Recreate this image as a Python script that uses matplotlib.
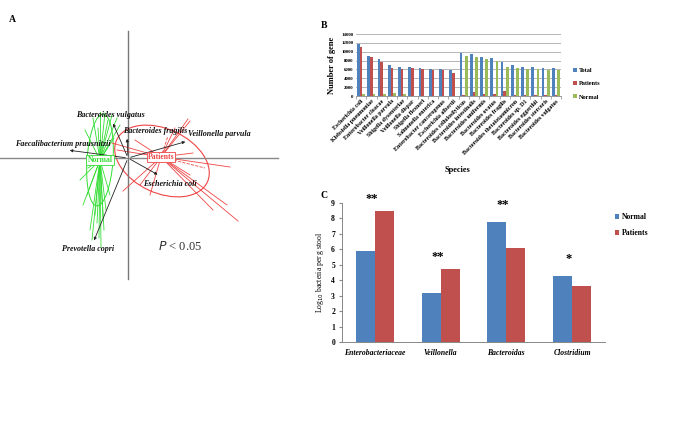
import matplotlib.pyplot as plt
import numpy as np
from matplotlib.patches import Ellipse

plt.rcParams["font.family"] = ["Liberation Serif", "DejaVu Serif"]

# ---- Panel A: biplot data (scores in plot units, origin at centre) ----
species_names = ["Bacteroides vulgatus", "Bacteroides fragilis", "Veillonella parvula",
                 "Faecalibacterium prausnitzii", "Escherichia coli", "Prevotella copri"]
species_x = [-16, -1, 60, -61, 32, -35]
species_y = [37, 22, 17, 8, -18, -85]
label_x = [-18, 27, 91, -65, 42, -40]
label_y = [43, 27, 24, 14, -26, -91]

normal_center = (-28, -2)
patients_center = (33, 1)
normal_x = [-35, -28, -23, -16, -11, -8, -20, -43, -45, -41, -38, -36, -29, -27,
            -24, -22, -18, -33, -48, -25, -30, -14, -40, -31]
normal_y = [40, 46, 45, 43, 40, 33, 38, 28, -47, -37, -72, -82, -80, -89,
            -72, -52, -37, -57, -22, -60, 30, 20, -10, -65]
patients_x = [60, 62, 102, 110, 99, -5, 65, -11, -16, 62, 47, 12, 22, 7, 85]
patients_y = [39, 37, -9, -63, -47, -33, 5, 8, 15, -17, 30, -27, -37, 18, -52]
patients_dash_x = [77, 40]
patients_dash_y = [-10, 22]

# ---- Panel B: number of genes ----
b_species = ["Escherichia coli", "Klebsiella pneumoniae", "Enterobacter cloacae",
             "Veillonella parvula", "Shigella dysenteriae", "Veillonella dispar",
             "Shigella flexneri", "Salmonella enterica", "Enterobacter cancerogenus",
             "Escherichia albertii", "Bacteroides cellulosilyticus",
             "Bacteroides intestinalis", "Bacteroides uniformis", "Bacteroides ovatus",
             "Bacteroides fragilis", "Bacteroides thetaiotaomicron", "Bacteroides sp. D1",
             "Bacteroides eggerthii", "Bacteroides stercoris", "Bacteroides vulgatus"]
b_total = [11700, 9100, 8300, 7100, 6500, 6500, 6300, 6200, 6200, 5900,
           9600, 9400, 8700, 8500, 7600, 7000, 6600, 6500, 6300, 6300]
b_patients = [11100, 8700, 7700, 6400, 6000, 6300, 6000, 5900, 5900, 5300,
              300, 800, 400, 400, 1100, 300, 300, 300, 300, 300]
b_normal = [400, 400, 400, 600, 400, 100, 100, 100, 100, 100,
            9000, 8700, 8300, 7900, 6500, 6300, 6000, 6000, 5900, 5900]

# ---- Panel C: qPCR ----
c_groups = ["Enterobacteriaceae", "Veillonella", "Bacteroidas", "Clostridium"]
c_normal = [5.9, 3.2, 7.8, 4.3]
c_patients = [8.5, 4.7, 6.1, 3.6]
c_stars = ["**", "**", "**", "*"]
c_star_y = [9.25, 5.5, 8.85, 5.4]

blue = "#4F81BD"
red = "#C0504D"
green = "#9BBB59"
bright_green = "#33DD33"
bright_red = "#EE4444"

fig = plt.figure(figsize=(6.85, 4.32), dpi=100)

# ---------------- Panel A ----------------
axA = fig.add_axes([0, 0, 281 / 685, 1])
axA.set_xlim(-128, 153)
axA.set_ylim(-274, 158)
axA.axis("off")
axA.plot([-128, 150], [0, 0], color="#888888", lw=1.0)
axA.plot([0, 0], [-121, 127], color="#777777", lw=1.0)

for x, y in zip(normal_x, normal_y):
    axA.plot([normal_center[0], x], [normal_center[1], y], color=bright_green, lw=0.6)
for x, y in zip(patients_x, patients_y):
    axA.plot([patients_center[0], x], [patients_center[1], y], color=bright_red, lw=0.6)
for x, y in zip(patients_dash_x, patients_dash_y):
    axA.plot([patients_center[0], x], [patients_center[1], y], color=bright_red, lw=0.6, ls="--")

axA.add_patch(Ellipse(normal_center, 26, 92, angle=-4, fill=False, ec=bright_green, lw=0.7))
axA.add_patch(Ellipse((34, -3), 100, 64, angle=-25, fill=False, ec=bright_red, lw=0.8))

for name, x, y, lx, ly in zip(species_names, species_x, species_y, label_x, label_y):
    axA.annotate("", xy=(x, y), xytext=(0, 0),
                 arrowprops=dict(arrowstyle="-|>", color="#222222", lw=0.6,
                                 mutation_scale=4))
    axA.text(lx, ly, name, fontsize=5.8, fontweight="bold", fontstyle="italic",
             ha="center", va="center", color="#111111")

axA.text(normal_center[0], normal_center[1], "Normal", fontsize=5.5, fontweight="bold",
         color=bright_green, ha="center", va="center",
         bbox=dict(boxstyle="square,pad=0.15", fc="white", ec=bright_green, lw=0.6))
axA.text(patients_center[0], patients_center[1], "Patients", fontsize=5.5, fontweight="bold",
         color=bright_red, ha="center", va="center",
         bbox=dict(boxstyle="square,pad=0.15", fc="white", ec=bright_red, lw=0.6))
axA.text(52, -88, "$P$ < 0.05", fontsize=9, ha="center", va="center", color="#333333")
fig.text(12 / 685, 1 - 20 / 432, "A", fontsize=7, fontweight="bold", ha="center", va="center")

# ---------------- Panel B ----------------
axB = fig.add_axes([356 / 685, 1 - 96 / 432, 205 / 685, 62 / 432])
xb = np.arange(len(b_species))
w = 0.26
axB.bar(xb - w, b_total, w, color=blue, label="Total")
axB.bar(xb, b_patients, w, color=red, label="Patients")
axB.bar(xb + w, b_normal, w, color=green, label="Normal")
axB.set_ylim(0, 14000)
axB.set_xlim(-0.5, len(b_species) - 0.5)
axB.set_yticks(np.arange(0, 14001, 2000))
axB.yaxis.grid(True, color="#999999", lw=0.5)
axB.set_axisbelow(True)
for s in ["top", "right", "left"]:
    axB.spines[s].set_visible(False)
axB.spines["bottom"].set_color("#888888")
axB.spines["bottom"].set_linewidth(0.6)
axB.set_xticks(np.arange(len(b_species) + 1) - 0.5, minor=True)
axB.set_xticks(xb)
axB.set_xticklabels(b_species, rotation=45, ha="right", rotation_mode="anchor",
                    fontsize=4.3, fontweight="bold")
axB.tick_params(axis="x", which="major", length=0, pad=2)
axB.tick_params(axis="x", which="minor", length=2, color="#888888", width=0.5)
axB.tick_params(axis="y", length=0, labelsize=3.5, pad=2)
for t in axB.get_yticklabels():
    t.set_fontweight("bold")
axB.set_ylabel("Number of gene", fontsize=6, fontweight="bold", labelpad=4)
fig.text(457 / 685, 1 - 170 / 432, "Species", fontsize=6, fontweight="bold",
         ha="center", va="center")
axB.legend(loc="center left", bbox_to_anchor=(1.03, 0.2), frameon=False,
           prop=dict(size=4.5, weight="bold"), handlelength=0.6, handleheight=0.6,
           handletextpad=0.4, labelspacing=1.3)
fig.text(324 / 685, 1 - 26 / 432, "B", fontsize=7, fontweight="bold", ha="center", va="center")

# ---------------- Panel C ----------------
axC = fig.add_axes([342 / 685, 1 - 342 / 432, 263 / 685, 139 / 432])
xc = np.arange(len(c_groups))
wc = 0.29
axC.bar(xc - wc / 2, c_normal, wc, color=blue, label="Normal")
axC.bar(xc + wc / 2, c_patients, wc, color=red, label="Patients")
axC.set_xlim(-0.5, len(c_groups) - 0.5)
axC.set_ylim(0, 9)
axC.set_yticks(range(0, 10))
for s in ["top", "right"]:
    axC.spines[s].set_visible(False)
for s in ["left", "bottom"]:
    axC.spines[s].set_color("#888888")
    axC.spines[s].set_linewidth(0.7)
axC.set_xticks(xc)
axC.set_xticklabels(c_groups, fontsize=5.5, fontweight="bold", fontstyle="italic")
axC.tick_params(axis="x", length=0, pad=5)
axC.tick_params(axis="y", length=2, color="#888888", labelsize=5.5, pad=3)
for t in axC.get_yticklabels():
    t.set_fontweight("bold")
axC.set_ylabel("Log$_{10}$ bacteria per g stool", fontsize=5.5, labelpad=4)
for x, s, y in zip(xc, c_stars, c_star_y):
    axC.text(x - 0.05, y, s, fontsize=9, fontweight="bold", ha="center", va="center")
axC.legend(loc="center left", bbox_to_anchor=(1.01, 0.84), frameon=False,
           prop=dict(size=5.5, weight="bold"), handlelength=0.6, handleheight=0.6,
           handletextpad=0.4, labelspacing=1.0)
fig.text(324 / 685, 1 - 196 / 432, "C", fontsize=7, fontweight="bold", ha="center", va="center")

fig.savefig("out.png", dpi=100)
